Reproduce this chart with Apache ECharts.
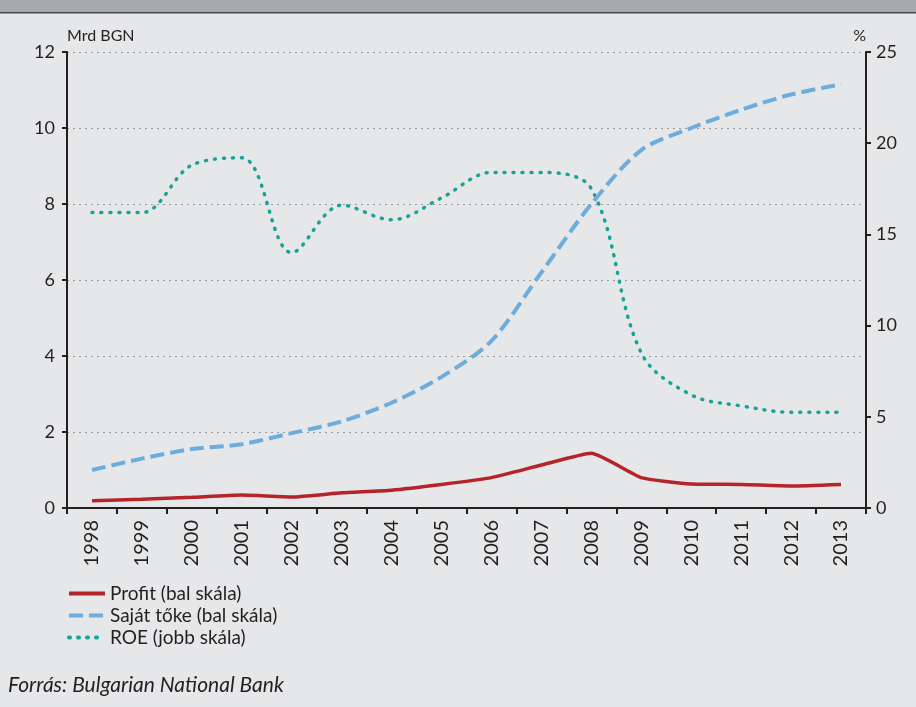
<!DOCTYPE html>
<html>
<head>
<meta charset="utf-8">
<script src="https://cdn.jsdelivr.net/npm/echarts@6/dist/echarts.min.js"></script>
<style>
  html, body { margin: 0; padding: 0; background: #e6e7e8; }
  #chart { width: 916px; height: 707px; }
</style>
</head>
<body>
<div id="chart"></div>
<script>
// évek
const years = ["1998", "1999", "2000", "2001", "2002", "2003", "2004", "2005",
  "2006", "2007", "2008", "2009", "2010", "2011", "2012", "2013"];
// Mrd BGN
const profit = [0.19, 0.23, 0.28, 0.34, 0.29, 0.4, 0.47, 0.62, 0.8, 1.13, 1.44, 0.8, 0.63, 0.62, 0.58, 0.62];
const equity = [1.0, 1.3, 1.55, 1.68, 1.97, 2.28, 2.77, 3.45, 4.4, 6.2, 8.0, 9.42, 10.0, 10.48, 10.88, 11.15];
// %
const roe = [16.2, 16.2, 18.8, 19.2, 14.0, 16.6, 15.8, 17.0, 18.4, 18.4, 17.5, 8.5, 6.2, 5.6, 5.25, 5.25];
const leftTicks = [0, 2, 4, 6, 8, 10, 12];
const rightTicks = [0, 5, 10, 15, 20, 25];

const font = "Lato";
const ink = "#231f20";
const axisBlack = { show: true, lineStyle: { color: ink, width: 2 } };

let myChart = echarts.init(document.getElementById("chart"));

let option = {
  backgroundColor: "#e6e7e8",
  animation: false,
  textStyle: { fontFamily: font },
  grid: {
    left: 67,
    right: 50,
    top: 52,
    bottom: 199,
  },
  legend: {
    orient: "vertical",
    left: 62,
    top: 579,
    itemWidth: 36,
    itemHeight: 14,
    itemGap: 3,
    itemStyle: { opacity: 0 },
    lineStyle: { width: 4 },
    textStyle: { fontFamily: font, fontSize: 19, color: ink },
    data: ["Profit (bal skála)", "Saját tőke (bal skála)", "ROE (jobb skála)"],
  },
  xAxis: {
    type: "category",
    data: years,
    axisLine: axisBlack,
    axisTick: { show: true, length: 6, lineStyle: { color: ink, width: 2 } },
    axisLabel: {
      rotate: 90,
      fontSize: 20,
      color: ink,
      margin: 12,
      fontFamily: font,
    },
  },
  yAxis: [
    {
      type: "value",
      min: 0,
      max: 12,
      interval: 2,
      name: "Mrd BGN",
      nameGap: 8,
      nameTextStyle: { align: "left", fontSize: 16, color: ink, fontFamily: font },
      axisLine: axisBlack,
      axisTick: { show: true, length: 5, lineStyle: { color: ink, width: 2 } },
      axisLabel: {
        fontSize: 18,
        color: ink,
        margin: 12,
        fontFamily: font,
        customValues: leftTicks,
      },
      splitLine: {
        show: true,
        lineStyle: { color: "#9a9a9a", type: [2, 4], width: 1 },
      },
    },
    {
      type: "value",
      min: 0,
      max: 25,
      interval: 5,
      position: "right",
      name: "%",
      nameGap: 8,
      nameTextStyle: { align: "right", fontSize: 16, color: ink, fontFamily: font },
      axisLine: axisBlack,
      axisTick: { show: true, length: 5, lineStyle: { color: ink, width: 2 } },
      axisLabel: {
        fontSize: 18,
        color: ink,
        margin: 10,
        fontFamily: font,
        customValues: rightTicks,
      },
      splitLine: { show: false },
    },
  ],
  series: [
    {
      name: "Profit (bal skála)",
      type: "line",
      yAxisIndex: 0,
      data: profit,
      symbol: "none",
      smooth: 0.15,
      color: "#b5242a",
      lineStyle: { color: "#b5242a", width: 3.5 },
      z: 4,
    },
    {
      name: "Saját tőke (bal skála)",
      type: "line",
      yAxisIndex: 0,
      data: equity,
      symbol: "none",
      smooth: 0.3,
      color: "#6cadde",
      lineStyle: { color: "#6cadde", width: 4, type: [14, 6] },
      z: 3,
    },
    {
      name: "ROE (jobb skála)",
      type: "line",
      yAxisIndex: 1,
      data: roe,
      symbol: "none",
      smooth: 0.35,
      color: "#17a398",
      lineStyle: { color: "#17a398", width: 3.5, type: [1, 8], cap: "round" },
      z: 2,
    },
  ],
  graphic: [
    {
      type: "rect",
      left: 0,
      top: 0,
      shape: { width: 916, height: 12 },
      style: { fill: "#a7a8ab" },
    },
    {
      type: "rect",
      left: 0,
      top: 12,
      shape: { width: 916, height: 1.5 },
      style: { fill: "#4a4a4c" },
    },
    {
      type: "text",
      left: 8,
      top: 675,
      style: {
        text: "Forrás: Bulgarian National Bank",
        font: "italic 21px " + font,
        fill: ink,
      },
    },
  ],
};

myChart.setOption(option);
window.onresize = function () {
  myChart.resize();
};
</script>
</body>
</html>
